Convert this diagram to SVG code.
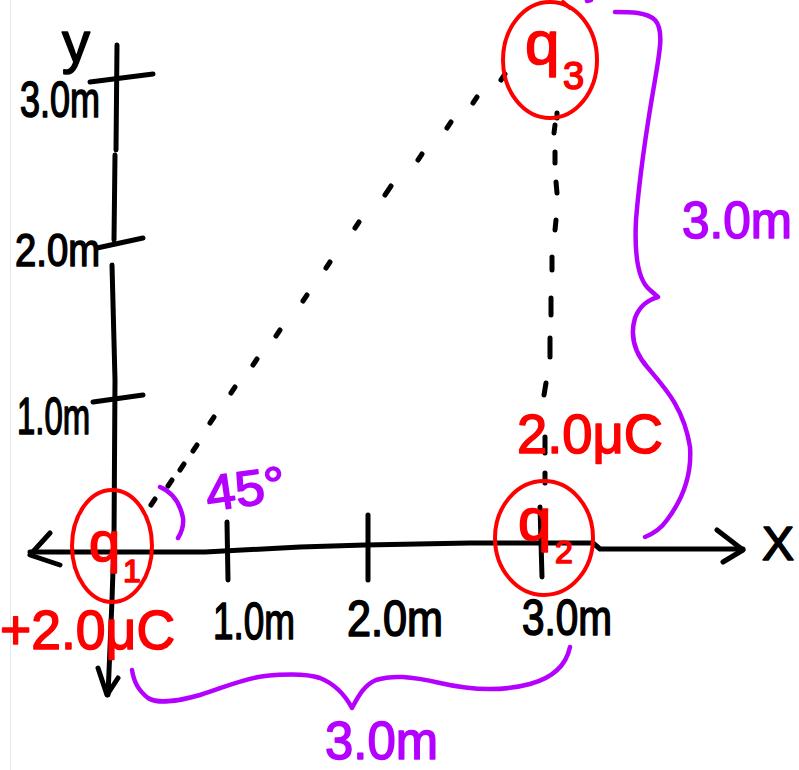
<svg xmlns="http://www.w3.org/2000/svg" width="799" height="770" viewBox="0 0 799 770">
<style>
.ink{fill:none;stroke:#000;stroke-width:5;stroke-linecap:round;stroke-linejoin:round}
.red{fill:none;stroke:#f00;stroke-width:4;stroke-linecap:round;stroke-linejoin:round}
.pur{fill:none;stroke:#b400ff;stroke-width:4.5;stroke-linecap:round;stroke-linejoin:round}
.t{font-family:"Liberation Sans","DejaVu Sans",sans-serif;stroke-width:1.6;stroke-linejoin:round}
.tk{fill:#000;stroke:#000}
.tr{fill:#f00;stroke:#f00}
.tp{fill:#b400ff;stroke:#b400ff}
</style>
<rect x="0" y="0" width="799" height="770" fill="#fff"/>
<line x1="10.5" y1="0" x2="10.5" y2="770" stroke="#e6e6e6" stroke-width="1"/>

<g id="axes">
  <path class="ink" d="M117,45 L116,150 M115,155 L114,240 M112,265 L115,380 L114,540 L112,600 L108,695"/>
  <path class="ink" d="M98,668 L107,695 L118,678"/>
  <path class="ink" d="M90,82 L153,74 M97,248 L143,238 M93,402 L143,395"/>
  <path class="ink" d="M30,552 L205,552 L300,547 L365,545 L470,543 L593,543 L600,549 L743,549"/>
  <path class="ink" d="M50,533 L30,555 L60,565 M717,530 L743,550 L723,562"/>
  <path class="ink" d="M227,522 L228,580 M368,515 L368,580 M540,507 L542,577"/>
  <text class="t tk" x="62" y="62" font-size="58" textLength="28" lengthAdjust="spacingAndGlyphs">y</text>
  <text class="t tk" x="20" y="117" font-size="50" textLength="80" lengthAdjust="spacingAndGlyphs">3.0m</text>
  <text class="t tk" x="15" y="266" font-size="46" textLength="85" lengthAdjust="spacingAndGlyphs">2.0m</text>
  <text class="t tk" x="17" y="434" font-size="52" textLength="73" lengthAdjust="spacingAndGlyphs">1.0m</text>
  <text class="t tk" x="213" y="639" font-size="52" textLength="82" lengthAdjust="spacingAndGlyphs">1.0m</text>
  <text class="t tk" x="347" y="636" font-size="50" textLength="96" lengthAdjust="spacingAndGlyphs">2.0m</text>
  <text class="t tk" x="522" y="635" font-size="50" textLength="90" lengthAdjust="spacingAndGlyphs">3.0m</text>
  <text class="t tk" x="762" y="560" font-size="48">X</text>
</g>

<g id="connectors">
  <path class="ink" d="M501,80 L505,74 M473,103 L477,97 M447,128 L451,122 M418,160 L422,154 M385,195 L391,186 M355,228 L359,222 M326,268 L330,262 M303,301 L307,295 M276,336 L280,330 M253,365 L257,359 M231,393 L235,387 M210,423 L214,417 M193,451 L197,445 M180,470 L184,464 M168,486 L172,480 M151,505 L155,499"/>
  <path class="ink" d="M557,113 L557,118 M555,125 L554,133 M555,152 L555,163 M556,182 L557,193 M556,220 L555,230 M552,257 L552,270 M551,298 L551,315 M550,338 L550,357 M546,383 L544,395 M545,437 L545,453 M545,473 L545,483"/>
</g>

<g id="q1">
  <ellipse class="red" cx="112" cy="546" rx="40" ry="56"/>
  <text class="t tr" x="89" y="561" font-size="56">q</text>
  <text class="t tr" x="123" y="582" font-size="32">1</text>
  <text class="t tr" x="0" y="649" font-size="56" textLength="175" lengthAdjust="spacingAndGlyphs">+2.0μC</text>
</g>

<g id="q2">
  <ellipse class="red" cx="544" cy="538" rx="49" ry="57"/>
  <text class="t tr" x="518" y="540" font-size="60">q</text>
  <text class="t tr" x="555" y="563" font-size="32">2</text>
  <text class="t tr" x="517" y="453" font-size="56" textLength="146" lengthAdjust="spacingAndGlyphs">2.0μC</text>
</g>

<g id="q3">
  <ellipse class="red" cx="550" cy="60" rx="47" ry="58"/>
  <path class="red" d="M563,2 L570,8"/>
  <text class="t tr" x="525" y="64" font-size="62">q</text>
  <text class="t tr" x="563" y="89" font-size="38">3</text>
</g>

<g id="dimensions">
  <path class="pur" d="M587,1 L591,0"/>
  <path class="pur" d="M615,12 C630,12 647,12 655,20 C664,30 660,50 655,80 C648,120 640,170 636,220 C634,260 640,282 650,290 L658,297 C648,300 640,305 635,318 C630,335 634,352 648,368 C665,388 684,408 690,447 C692,475 682,500 667,520 C660,530 650,535 645,537"/>
  <path class="pur" d="M160,487 C172,492 180,503 183,518 C184,526 181,533 178,538"/>
  <path class="pur" d="M132,670 C134,682 138,690 148,698 C158,704 175,702 200,695 C225,687 245,678 265,676 C285,674 305,673 320,678 C335,684 345,695 352,708 C358,697 364,685 376,680 C392,675 410,676 440,683 C470,690 500,692 530,684 C552,678 566,666 570,647"/>
  <text class="t tp" x="682" y="238" font-size="52" textLength="110" lengthAdjust="spacingAndGlyphs">3.0m</text>
  <text class="t tp" x="325" y="759" font-size="54" textLength="113" lengthAdjust="spacingAndGlyphs">3.0m</text>
  <text class="t tp" x="205" y="506" font-size="50" textLength="80" lengthAdjust="spacingAndGlyphs" transform="rotate(-8 245 485)">45°</text>
</g>
</svg>
